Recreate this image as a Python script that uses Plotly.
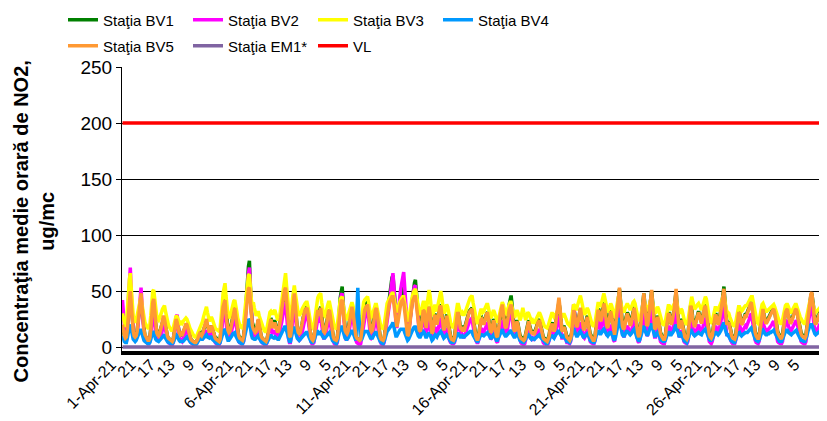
import plotly.graph_objects as go

# Hourly NO2 concentrations, April 2021 (one line per day, 24 hourly values)
BV1 = [
18,13,10,8,9,17,32,48,55,40,24,15,11,10,11,15,23,33,38,40,32,22,14,10,
9,7,6,6,8,17,30,35,34,27,18,14,12,11,13,16,19,22,25,24,18,13,10,8,
7,6,5,5,7,12,20,25,24,18,14,12,12,11,13,15,18,19,20,17,13,9,7,6,
5,4,4,4,5,7,10,13,13,12,13,16,18,20,22,19,15,14,16,19,17,13,10,8,
8,6,5,5,7,15,27,38,44,45,33,21,16,14,15,18,23,29,33,36,29,21,15,10,
9,7,6,6,10,18,32,50,65,72,77,50,32,22,18,16,14,15,19,24,20,14,10,8,
7,6,5,5,7,12,19,24,26,23,19,21,24,20,15,14,16,20,26,31,37,43,48,50,
40,27,16,10,9,16,30,39,42,36,25,17,13,12,13,16,21,26,30,33,35,36,30,20,
13,9,7,6,8,15,25,32,34,30,33,36,28,19,15,14,16,21,27,32,33,27,19,12,
9,7,6,6,8,17,31,44,52,54,40,25,17,14,13,15,20,27,33,38,34,24,16,10,
8,7,6,6,7,13,23,30,34,37,39,40,33,23,17,15,16,21,29,34,35,29,20,12,
9,7,6,6,8,15,25,32,37,42,48,55,62,64,52,36,25,21,26,36,44,48,52,54,
52,42,30,20,14,14,22,32,40,46,52,57,60,50,35,24,18,16,20,28,34,33,26,18,
26,33,36,30,19,13,15,24,30,25,21,25,32,36,38,31,21,16,18,24,29,25,18,12,
10,8,7,7,9,16,25,30,31,24,18,17,19,16,16,19,23,27,30,32,33,34,35,27,
19,13,10,8,8,12,20,25,26,22,21,24,28,30,31,25,18,14,15,20,25,22,16,11,
10,15,22,28,32,36,31,24,20,19,23,30,38,42,46,38,24,17,15,19,24,21,15,11,
9,8,7,7,8,12,18,23,24,19,15,13,15,12,13,15,18,22,24,25,21,16,12,9,
8,7,6,6,8,11,17,21,22,18,15,18,24,29,34,40,34,23,16,15,19,17,13,10,
9,8,7,9,13,23,34,31,24,20,21,27,32,34,30,23,18,16,19,24,28,24,17,12,
10,8,7,7,10,18,29,33,33,28,25,29,36,40,37,28,20,18,22,29,33,29,21,14,
12,19,29,40,48,52,42,29,21,18,19,24,29,31,29,24,21,23,29,34,36,31,22,15,
12,10,13,23,34,42,48,38,27,21,22,29,38,46,50,40,26,18,17,22,28,25,18,13,
11,9,8,8,11,18,26,30,30,24,21,24,28,34,42,50,38,24,18,19,25,23,17,12,
10,9,8,10,17,28,38,35,26,20,19,22,26,30,32,29,24,22,26,32,36,38,32,22,
17,12,10,9,11,17,25,29,29,24,21,24,28,34,40,48,54,42,29,21,22,23,19,14,
11,9,8,8,11,18,27,31,31,25,21,22,25,28,30,29,31,33,36,39,40,35,27,19,
14,11,9,8,10,16,26,33,35,29,24,22,23,25,27,28,30,32,34,35,32,26,19,14,
12,10,9,9,11,18,28,32,34,35,29,24,22,23,26,29,32,34,35,32,26,20,16,13,
11,10,9,9,11,18,29,36,42,46,48,41,30,23,21,23,26,29,31,32,30,28,27,28,
]
BV2 = [
42,28,15,7,5,14,42,65,71,48,26,14,8,6,7,11,20,34,48,53,38,22,12,7,
5,4,3,3,5,12,24,30,27,18,11,7,6,6,7,9,12,16,20,22,16,10,6,4,
3,3,2,2,4,9,20,27,29,18,10,6,6,5,7,9,11,14,16,14,9,6,4,3,
2,2,2,2,3,5,8,11,10,8,8,10,12,14,15,12,9,9,12,14,11,8,5,4,
3,3,2,2,4,10,18,28,34,35,23,12,8,7,8,11,15,20,25,28,22,14,8,5,
4,3,3,3,5,12,25,42,58,66,71,45,26,15,11,9,8,9,12,16,12,8,5,4,
3,3,2,2,4,8,13,17,18,15,12,13,15,12,9,8,10,13,18,22,28,34,38,40,
28,16,8,4,4,10,24,36,40,32,18,10,7,6,7,9,13,18,24,28,30,32,26,15,
9,5,3,3,4,10,18,24,25,22,25,28,20,12,8,8,10,15,20,24,25,20,13,8,
5,3,2,2,4,11,26,38,46,48,36,20,11,7,7,9,13,19,26,30,27,19,11,6,
4,3,2,2,3,9,17,23,27,30,32,33,26,16,10,8,9,14,20,24,25,20,12,7,
5,3,2,2,4,10,18,24,28,34,42,52,62,66,54,36,22,17,24,36,44,52,58,63,
67,54,38,24,14,12,20,30,38,45,50,54,55,44,30,19,13,11,15,22,26,25,19,12,
16,22,24,18,10,6,9,15,18,15,12,15,20,24,26,20,12,8,10,14,17,14,9,6,
4,3,3,3,4,9,16,20,21,16,12,10,11,9,9,11,14,17,20,22,24,25,26,19,
14,9,6,4,4,7,13,16,16,13,13,15,18,20,22,16,10,7,8,12,15,13,8,5,
4,7,12,16,20,24,20,15,12,11,14,20,26,32,36,28,16,10,9,13,17,15,10,6,
4,3,2,2,3,7,12,15,15,11,8,7,8,6,7,8,10,13,15,16,13,9,6,4,
3,3,2,2,3,6,10,13,13,10,8,10,14,19,24,28,22,13,8,8,11,10,7,4,
4,3,3,5,11,24,38,30,19,12,11,15,20,22,18,12,9,8,10,14,16,13,8,5,
4,3,3,3,6,12,19,22,22,18,15,19,24,28,24,16,11,10,13,18,20,17,11,6,
5,11,19,28,36,40,30,18,12,10,10,14,18,19,17,13,11,13,18,22,24,20,13,7,
5,4,7,13,20,27,32,23,14,10,11,17,24,30,34,25,14,9,9,13,17,14,9,5,
4,3,3,3,6,11,16,18,18,14,12,14,18,22,30,36,25,13,9,10,15,13,8,5,
4,3,3,5,10,18,26,22,15,11,10,13,16,19,20,17,13,12,16,21,24,26,21,12,
8,5,4,3,5,10,16,18,18,15,13,15,19,22,28,34,38,27,15,10,11,11,8,5,
4,3,3,3,6,11,17,20,20,16,13,14,16,18,19,18,20,22,25,28,30,25,17,9,
6,4,3,3,5,10,17,22,24,19,15,14,14,15,16,17,18,20,22,23,20,15,9,5,
4,3,3,3,5,12,18,21,23,24,19,15,14,15,17,19,21,23,24,21,16,11,8,5,
4,3,3,3,5,13,20,26,32,36,38,30,20,14,13,15,17,19,20,21,19,18,17,17,
]
BV3 = [
30,25,20,18,20,30,46,60,66,52,36,28,24,22,24,28,33,39,43,45,38,31,26,22,
20,18,17,17,20,28,42,50,51,42,33,28,25,24,26,28,31,34,36,37,32,27,23,20,
18,16,15,15,17,21,26,28,27,24,22,21,22,21,23,24,25,26,25,23,20,17,15,13,
11,10,9,9,10,12,15,17,18,20,23,27,31,34,36,31,25,23,25,27,25,22,19,17,
16,15,14,14,17,24,36,48,55,57,46,35,29,26,27,30,34,38,41,42,38,32,26,22,
20,18,17,17,21,30,42,52,60,64,65,52,42,38,40,35,30,28,30,32,28,25,22,19,
17,15,14,14,17,22,28,31,32,30,29,32,33,30,26,24,25,28,34,40,48,56,62,66,
55,45,34,27,24,30,43,52,55,48,40,34,30,28,29,31,34,36,38,39,40,40,36,29,
24,20,18,17,19,26,36,42,44,46,47,48,40,33,29,28,30,33,37,40,40,35,29,24,
21,18,17,16,19,27,37,42,44,45,38,31,27,25,25,28,31,35,39,40,37,31,26,22,
20,18,17,16,19,26,35,40,42,43,44,45,40,33,29,27,28,32,36,38,38,33,27,22,
21,18,17,16,19,26,34,39,41,43,45,47,48,48,44,38,33,31,33,38,40,42,44,45,
45,40,34,28,24,24,30,37,42,46,49,51,52,47,40,34,30,29,32,37,40,40,35,28,
38,46,51,46,36,28,29,35,38,34,32,37,43,48,50,45,37,31,31,35,38,36,30,25,
22,20,18,18,20,27,35,38,38,34,31,30,31,29,29,31,34,37,40,42,44,45,46,40,
36,30,25,22,21,24,30,33,33,31,32,34,36,38,38,34,29,26,27,30,33,31,27,23,
22,25,29,33,37,40,38,34,31,30,32,35,38,40,40,36,31,27,27,30,33,31,27,24,
26,31,35,31,25,24,28,31,30,27,24,23,24,22,22,24,25,28,30,31,29,26,23,21,
19,18,17,17,19,22,27,30,31,29,27,28,30,31,32,33,31,28,27,28,30,28,25,22,
21,20,19,21,25,31,38,37,34,34,37,40,44,46,42,36,31,29,30,33,35,33,29,25,
22,20,19,19,22,29,36,39,39,37,37,41,45,48,44,38,33,31,33,37,39,37,32,27,
26,31,36,41,45,45,41,36,33,32,32,35,38,39,37,34,33,35,38,40,41,39,34,29,
25,23,25,30,36,40,42,39,35,33,33,36,40,42,43,40,35,31,30,33,36,34,30,26,
23,21,20,20,23,28,34,37,37,35,33,35,37,39,41,42,39,34,30,31,34,33,29,25,
22,21,20,23,29,37,43,45,41,36,34,35,37,38,39,37,34,33,36,40,43,45,43,36,
31,26,23,22,23,27,32,35,35,33,33,35,37,39,42,45,46,41,35,31,31,30,27,24,
22,20,19,19,22,27,33,36,36,34,32,33,35,36,37,37,38,40,42,44,45,45,40,33,
28,24,22,21,23,28,34,38,39,37,34,32,32,33,34,35,36,37,38,38,36,33,29,26,
24,22,21,21,24,29,34,37,38,38,36,33,31,31,33,35,37,38,38,36,33,30,27,25,
23,22,21,21,24,29,35,39,41,42,42,39,35,32,31,32,34,35,36,36,34,33,32,31,
]
BV4 = [
10,7,5,4,4,8,14,18,20,14,9,7,6,5,6,8,10,13,15,15,11,8,6,5,
4,4,3,3,4,7,11,14,13,9,7,6,5,5,6,7,8,10,11,11,8,6,5,4,
4,3,3,3,4,6,9,11,10,7,6,5,5,5,5,6,7,8,9,8,6,5,4,3,
3,3,2,2,3,4,6,8,8,7,7,8,9,10,11,9,8,8,9,9,7,6,5,4,
4,3,3,3,4,7,11,15,16,15,11,8,6,6,7,8,10,12,13,13,10,8,6,5,
4,4,3,3,5,9,15,20,23,25,24,16,11,8,7,7,7,8,9,10,8,6,5,4,
4,3,3,3,4,6,8,10,11,9,8,8,9,8,7,7,7,9,11,13,15,17,18,18,
14,10,6,5,5,8,13,17,17,14,10,8,7,6,7,8,9,11,12,13,13,13,11,8,
6,5,4,4,5,8,12,14,14,12,12,13,11,9,8,8,9,11,12,13,13,11,8,6,
5,4,3,3,5,9,14,17,18,18,14,10,8,7,7,8,10,12,14,15,13,10,8,6,
28,53,28,12,6,7,10,13,14,14,14,14,12,10,8,8,8,10,12,13,13,11,8,6,
5,4,3,3,5,8,12,14,15,16,17,18,20,22,18,13,10,10,12,14,15,16,16,16,
16,13,10,8,6,7,9,12,14,16,17,18,18,15,12,10,9,9,11,13,14,13,10,8,
10,12,13,11,8,6,7,10,11,10,9,11,12,13,14,12,9,8,9,10,11,10,8,6,
5,4,4,4,5,8,11,12,12,10,9,9,10,9,9,10,11,12,13,13,14,14,14,11,
9,7,6,5,5,7,10,11,11,10,10,11,12,13,13,11,9,8,8,10,11,10,8,6,
6,8,10,12,14,16,13,11,10,10,11,12,13,14,15,12,10,9,9,10,12,11,8,6,
5,4,4,4,5,7,10,11,11,9,8,7,8,7,7,8,9,10,11,11,9,8,6,5,
4,4,3,3,4,6,9,10,10,9,8,10,11,12,14,15,12,10,9,9,10,9,7,5,
5,4,4,6,9,13,17,14,11,10,10,12,13,14,12,11,9,9,10,11,12,11,8,6,
5,4,4,4,6,10,13,14,14,12,12,14,15,16,14,12,11,10,12,13,13,12,10,7,
6,9,14,19,23,26,20,14,11,10,10,12,14,14,13,12,11,12,14,15,16,14,11,8,
6,5,7,10,14,17,19,15,12,11,11,14,16,19,21,17,12,10,10,12,13,12,9,7,
6,5,5,5,6,9,12,13,13,11,11,12,13,15,18,20,16,12,10,10,12,11,8,6,
5,5,4,6,9,13,16,14,12,11,10,11,12,13,13,12,11,11,13,14,15,16,14,11,
9,7,6,6,7,9,12,13,13,12,11,12,13,15,18,21,22,17,13,11,11,10,8,6,
5,5,4,4,6,9,12,13,13,11,10,11,12,12,13,13,13,14,15,16,17,15,12,9,
7,6,5,5,6,9,12,14,15,13,12,11,11,12,12,13,13,14,14,15,13,11,9,7,
6,5,5,5,7,10,13,14,15,15,13,12,11,11,12,13,14,14,15,13,11,9,8,6,
6,5,5,5,7,10,14,17,19,20,20,17,14,12,11,12,13,13,14,14,13,12,12,12,
]
BV5 = [
20,14,10,8,9,16,30,44,50,38,22,14,10,9,10,14,22,34,44,48,36,24,15,11,
9,7,6,6,8,16,30,40,43,30,18,13,11,10,12,15,19,24,28,25,18,13,10,8,
7,6,5,5,7,12,20,25,22,16,13,11,12,10,13,15,18,21,20,16,12,9,7,6,
5,4,4,4,5,7,10,12,11,10,12,15,19,23,25,20,14,13,16,19,17,13,10,8,
7,6,5,5,7,14,26,36,41,42,30,20,15,13,14,17,22,27,32,35,28,20,14,10,
8,7,6,6,9,17,29,40,48,52,53,38,26,19,16,14,13,14,19,25,20,14,10,8,
7,6,5,5,7,12,18,23,25,21,17,19,22,18,14,13,15,19,26,33,40,46,51,53,
42,28,16,10,9,16,30,43,48,38,25,17,13,12,13,16,21,26,30,33,34,35,30,20,
13,9,7,6,8,15,25,31,33,28,32,35,26,18,14,13,15,20,27,32,33,26,18,12,
9,7,6,6,8,16,29,38,41,42,32,21,15,13,12,14,19,26,32,36,32,23,15,10,
8,7,6,6,7,13,23,29,33,35,37,38,30,21,16,14,15,20,28,33,35,28,19,12,
9,7,6,6,8,14,24,31,35,38,41,43,45,45,38,28,21,18,22,30,36,39,41,42,
40,32,22,14,10,11,18,28,36,41,43,45,45,38,27,19,15,14,18,26,33,32,25,17,
24,32,36,30,18,12,14,23,29,24,20,24,31,36,37,30,20,15,17,23,28,24,17,11,
9,7,6,6,8,15,24,30,30,22,17,16,18,15,15,18,22,26,29,31,32,33,34,26,
18,12,9,7,7,11,19,24,25,21,20,23,27,30,30,24,17,13,14,19,24,21,15,10,
9,14,21,29,35,38,30,22,18,17,21,27,33,37,38,31,21,15,14,18,23,20,14,10,
8,7,6,6,7,11,17,22,23,18,14,12,14,11,12,14,17,21,23,24,20,15,11,8,
7,6,5,5,7,10,16,20,21,17,14,17,23,31,39,44,36,23,15,14,18,16,12,9,
8,7,6,8,12,22,33,29,22,18,19,25,31,35,29,22,17,15,18,23,27,23,16,11,
9,7,6,6,9,17,28,32,32,26,23,27,34,39,35,26,19,17,21,28,32,28,20,13,
11,18,28,38,47,53,40,27,19,16,17,22,27,30,27,22,19,21,27,33,35,30,21,14,
11,9,12,22,33,41,48,36,25,19,20,27,36,45,51,38,24,17,16,21,27,24,17,12,
10,8,7,7,10,17,25,29,29,23,20,23,27,33,42,52,37,23,17,18,24,22,16,11,
9,8,7,9,16,27,37,33,24,19,18,21,25,29,31,28,23,21,25,31,35,37,31,21,
16,11,9,8,10,16,24,28,28,23,20,23,27,33,39,47,52,39,27,20,21,22,18,13,
10,8,7,7,10,17,26,30,30,24,20,21,24,27,29,28,30,32,35,38,40,34,26,18,
13,10,8,7,9,15,25,32,34,28,23,21,22,24,26,27,29,31,33,34,31,25,18,13,
11,9,8,8,10,17,27,31,33,34,28,23,21,22,25,28,31,33,34,31,25,19,15,12,
10,9,8,8,10,17,28,36,42,47,49,40,29,22,20,22,25,28,30,31,29,27,26,27,
]
N = len(BV5)
EM1 = [0] * N          # Staţia EM1* drawn along zero
VL = 200               # limit value

HOURS = list(range(N))
TICK_POS = list(range(0, N, 20))
TICK_TEXT = ["1-Apr-21", "21", "17", "13", "9", "5",
             "6-Apr-21", "21", "17", "13", "9", "5",
             "11-Apr-21", "21", "17", "13", "9", "5",
             "16-Apr-21", "21", "17", "13", "9", "5",
             "21-Apr-21", "21", "17", "13", "9", "5",
             "26-Apr-21", "21", "17", "13", "9", "5"]

FONT = "Liberation Sans, Arial, sans-serif"

series = [
    ("Staţia BV1", BV1, "#008000", "legend"),
    ("Staţia BV2", BV2, "#FF00FF", "legend"),
    ("Staţia BV3", BV3, "#FFFF00", "legend"),
    ("Staţia BV4", BV4, "#0099FF", "legend"),
    ("Staţia BV5", BV5, "#FF9933", "legend2"),
    ("Staţia EM1*", EM1, "#8064A2", "legend2"),
    ("VL", [VL] * N, "#FF0000", "legend2"),
]

fig = go.Figure()
for name, ys, col, lg in series:
    fig.add_trace(go.Scatter(x=HOURS, y=ys, mode="lines", name=name,
                             line=dict(color=col, width=3.5), legend=lg,
                             hoverinfo="skip"))

# page body has an 8px margin, so the figure is sized/placed to compensate
W, H = 819, 413
L, R, T, B = 114, 2, 59, 70
pw, ph = W - L - R, H - T - B

legend_common = dict(orientation="h", xanchor="left", yanchor="middle",
                     font=dict(family=FONT, size=15, color="#000"),
                     bgcolor="rgba(0,0,0,0)", entrywidth=80,
                     itemwidth=30, tracegroupgap=0)

fig.update_layout(
    width=W, height=H,
    margin=dict(l=L, r=R, t=T, b=B, autoexpand=False),
    paper_bgcolor="white", plot_bgcolor="white",
    showlegend=True,
    legend=dict(x=(55 - L) / pw, y=1 + (T - 12) / ph, **legend_common),
    legend2=dict(x=(55 - L) / pw, y=1 + (T - 38) / ph, **legend_common),
    xaxis=dict(range=[-0.5, N - 0.5], tickmode="array", tickvals=TICK_POS,
               ticktext=TICK_TEXT, tickangle=-45, showgrid=False,
               zeroline=False, showline=True, linecolor="#000", linewidth=4,
               ticks="", automargin=False, ticklabelstandoff=-6,
               ticklabelshift=-11,
               tickfont=dict(family=FONT, size=16, color="#000")),
    yaxis=dict(range=[-3.5, 250], tickvals=[0, 50, 100, 150, 200, 250],
               showgrid=True, gridcolor="#000", gridwidth=1, zeroline=False,
               showline=True, linecolor="#000", linewidth=1, ticks="outside",
               ticklen=5, tickcolor="#000", automargin=False,
               tickfont=dict(family=FONT, size=19, color="#000")),
    annotations=[dict(text="<b>Concentraţia medie orară de NO2,<br>ug/mc</b>",
                      x=(25.5 - L) / pw, y=(H - B - 214) / ph, xref="paper",
                      yref="paper", xanchor="center", yanchor="middle",
                      textangle=-90, showarrow=False,
                      font=dict(family=FONT, size=20, color="#000"))],
)

fig.write_html("out.html")
